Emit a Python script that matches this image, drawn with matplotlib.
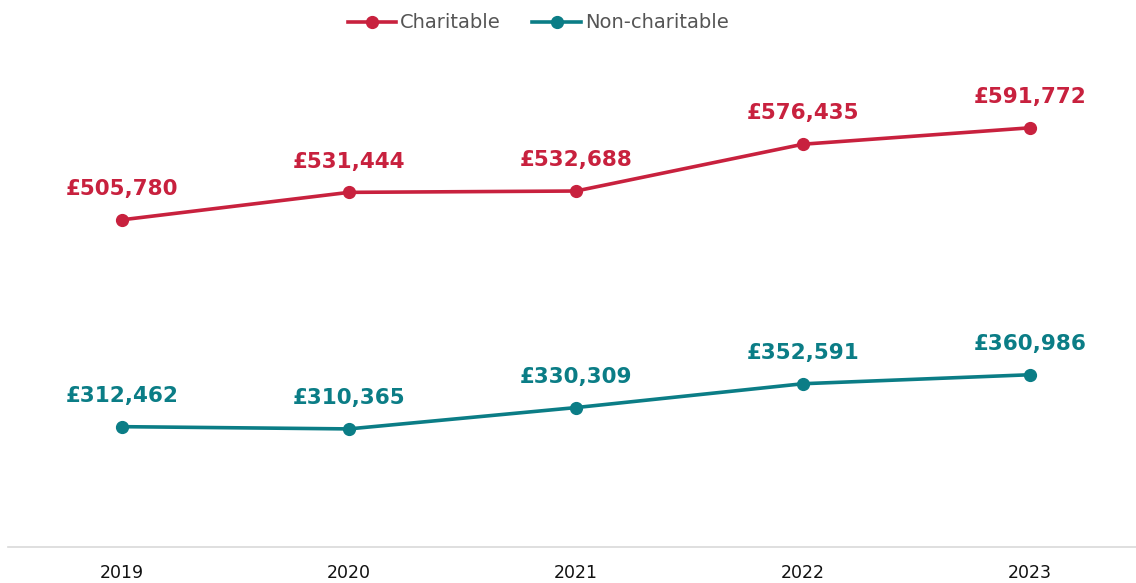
import matplotlib
matplotlib.use("Agg")
import matplotlib.pyplot as plt
from matplotlib.ticker import FixedLocator

annees = ["2019", "2020", "2021", "2022", "2023"]
charitable = [505780, 531444, 532688, 576435, 591772]
non_charitable = [312462, 310365, 330309, 352591, 360986]

ROUGE = "#C8213E"
TEAL = "#0B7D86"

fig = plt.figure(figsize=(11.36, 5.83), dpi=100)
ax = fig.add_axes([8 / 1136, 36 / 583, 1128 / 1136, 535 / 583])

x = list(range(len(annees)))

# Les deux séries
ax.plot(x, charitable, color=ROUGE, lw=2.6, marker="o", ms=8.5, label="Charitable")
ax.plot(x, non_charitable, color=TEAL, lw=2.6, marker="o", ms=8.5, label="Non-charitable")

# Etiquettes de valeurs
for xi, v in zip(x, charitable):
    ax.annotate(f"£{v:,}", (xi, v), xytext=(0, 15), textcoords="offset points",
                ha="center", va="bottom", fontsize=15.5, fontweight="bold", color=ROUGE)
for xi, v in zip(x, non_charitable):
    ax.annotate(f"£{v:,}", (xi, v), xytext=(0, 15), textcoords="offset points",
                ha="center", va="bottom", fontsize=15.5, fontweight="bold", color=TEAL)

ax.set_xlim(-0.502, 4.467)
ax.set_ylim(200000, 700000)
ax.xaxis.set_major_locator(FixedLocator(x))
ax.set_xticklabels(annees, fontsize=12.5, color="#111111", fontweight="medium")
ax.tick_params(axis="x", length=0, pad=12)
ax.set_yticks([])

for s in ["top", "right", "left"]:
    ax.spines[s].set_visible(False)
ax.spines["bottom"].set_color("#D9D9D9")
ax.spines["bottom"].set_linewidth(1.2)

leg = ax.legend(loc="upper center", bbox_to_anchor=(0.47, 1.03), ncol=2, frameon=False,
                fontsize=14, handlelength=2.5, columnspacing=1.6, handletextpad=0.2)
for t in leg.get_texts():
    t.set_color("#555555")

fig.savefig("out.png", dpi=100)
